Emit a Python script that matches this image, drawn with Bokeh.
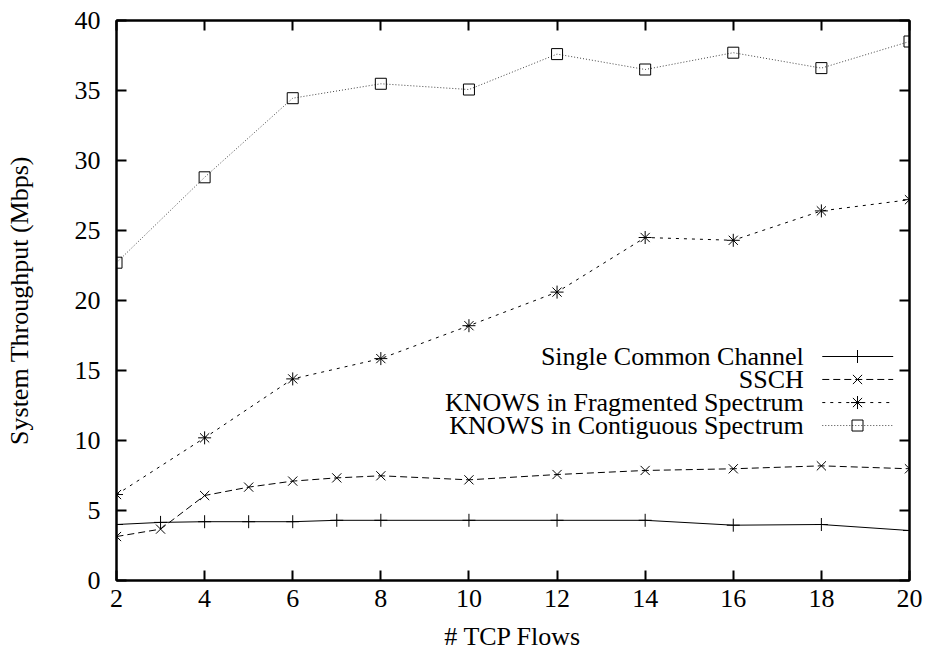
from bokeh.plotting import figure
from bokeh.models import LinearAxis, FixedTicker, Range1d, Label
from bokeh.embed import file_html
from bokeh.resources import INLINE

# Number of TCP flows
flows_all = [2, 3, 4, 5, 6, 7, 8, 10, 12, 14, 16, 18, 20]
flows_even = [2, 4, 6, 8, 10, 12, 14, 16, 18, 20]

# System throughput (Mbps)
single_common = [4.0, 4.15, 4.2, 4.2, 4.2, 4.3, 4.3, 4.3, 4.3, 4.3, 3.95, 4.0, 3.57]
ssch = [3.14, 3.67, 6.07, 6.67, 7.1, 7.33, 7.48, 7.19, 7.57, 7.86, 7.98, 8.19, 7.98]
knows_frag = [6.14, 10.19, 14.4, 15.85, 18.2, 20.6, 24.5, 24.3, 26.4, 27.2]
knows_contig = [22.7, 28.8, 34.45, 35.48, 35.07, 37.6, 36.5, 37.7, 36.6, 38.5]

series_names = [
    "Single Common Channel",
    "SSCH",
    "KNOWS in Fragmented Spectrum",
    "KNOWS in Contiguous Spectrum",
]

x_ticks = [2, 4, 6, 8, 10, 12, 14, 16, 18, 20]
y_ticks = [0, 5, 10, 15, 20, 25, 30, 35, 40]

FONT = "Times New Roman"
FS = "26px"

p = figure(
    width=933, height=661,
    x_range=Range1d(2, 20), y_range=Range1d(0, 40),
    output_backend="svg", toolbar_location=None,
    min_border_left=116, min_border_right=24,
    min_border_top=20, min_border_bottom=81,
)
p.grid.visible = False
p.outline_line_color = "black"
p.outline_line_width = 2
p.background_fill_color = "white"
p.border_fill_color = "white"


def style_axis(ax, labels=True):
    ax.major_tick_in = 10
    ax.major_tick_out = 0
    ax.minor_tick_line_color = None
    ax.major_tick_line_width = 2
    ax.major_tick_line_color = "black"
    ax.axis_line_color = "black"
    ax.axis_line_width = 2
    ax.major_label_text_font = FONT
    ax.major_label_text_font_size = FS
    ax.major_label_text_color = "black" if labels else None
    ax.axis_label_text_font = FONT
    ax.axis_label_text_font_size = FS
    ax.axis_label_text_font_style = "normal"
    ax.axis_label_text_color = "black"


p.xaxis.ticker = FixedTicker(ticks=x_ticks)
p.yaxis.ticker = FixedTicker(ticks=y_ticks)
p.xaxis.axis_label = "# TCP Flows"
p.yaxis.axis_label = "System Throughput (Mbps)"
for ax in p.xaxis + p.yaxis:
    style_axis(ax)
p.xaxis.major_label_standoff = 9
p.xaxis.axis_label_standoff = 12
p.yaxis.major_label_standoff = 16
p.yaxis.axis_label_standoff = 38

# Mirrored tick marks on the top and right edges
top_ax = LinearAxis(ticker=FixedTicker(ticks=x_ticks))
style_axis(top_ax, labels=False)
right_ax = LinearAxis(ticker=FixedTicker(ticks=y_ticks))
style_axis(right_ax, labels=False)
p.add_layout(top_ax, "above")
p.add_layout(right_ax, "right")

# Key: label on the left, line sample with marker on the right
key_rows = [16.0, 14.36, 12.71, 11.07]
key_x0, key_x1, key_xm, key_text_x = 18.02, 19.63, 18.82, 17.6
for name, yk in zip(series_names, key_rows):
    p.add_layout(Label(x=key_text_x, y=yk, text=name, text_align="right",
                       text_baseline="middle", text_font=FONT,
                       text_font_size=FS, text_color="black"))

styles = [
    dict(dash="solid", color="black", marker="cross", size=13),
    dict(dash="7 4", color="black", marker="x", size=13),
    dict(dash="3 5", color="black", marker="asterisk", size=13),
    dict(dash="1 2", color="#444444", marker="square", size=11),
]
xs_list = [flows_all, flows_all, flows_even, flows_even]
ys_list = [single_common, ssch, knows_frag, knows_contig]

for xs, ys, st in zip(xs_list, ys_list, styles):
    p.line(xs, ys, line_color=st["color"], line_dash=st["dash"], line_width=1)
    p.scatter(xs, ys, marker=st["marker"], size=st["size"],
              line_color="black", fill_color=None, line_width=1)

for st, yk in zip(styles, key_rows):
    p.line([key_x0, key_x1], [yk, yk], line_color=st["color"],
           line_dash=st["dash"], line_width=1)
    p.scatter([key_xm], [yk], marker=st["marker"], size=st["size"],
              line_color="black", fill_color=None, line_width=1)

open("out.html", "w").write(file_html(p, INLINE))
